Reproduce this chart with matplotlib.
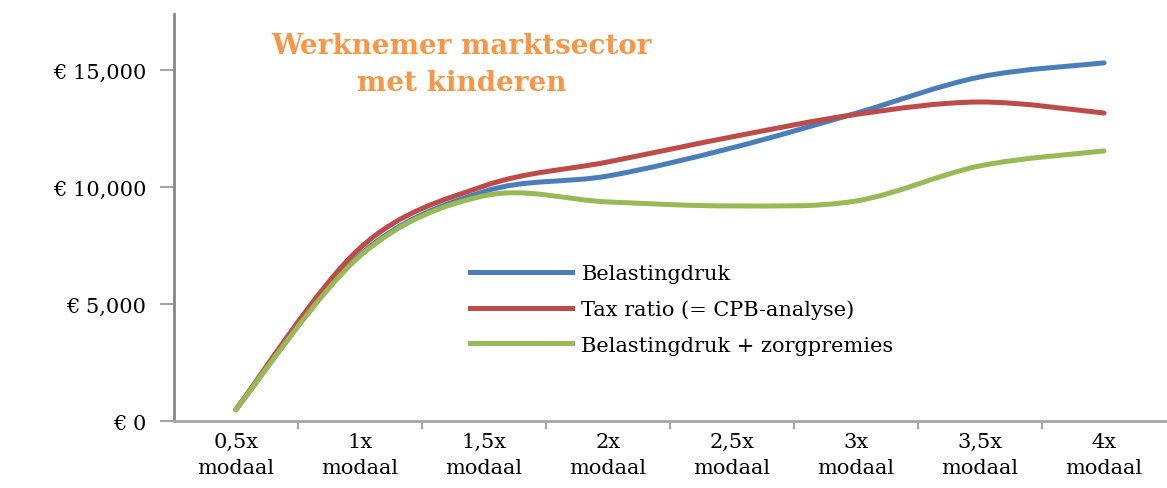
"""Werknemer marktsector met kinderen: smooth line chart per inkomensniveau."""

import matplotlib

matplotlib.use("Agg")
import matplotlib.pyplot as plt
from matplotlib.lines import Line2D
from matplotlib.patches import PathPatch
from matplotlib.path import Path

categories = ["0,5x\nmodaal", "1x\nmodaal", "1,5x\nmodaal", "2x\nmodaal",
              "2,5x\nmodaal", "3x\nmodaal", "3,5x\nmodaal", "4x\nmodaal"]
belastingdruk = [500, 7100, 9800, 10470, 11670, 13150, 14700, 15300]
tax_ratio = [500, 7390, 10040, 11070, 12140, 13100, 13630, 13160]
belasting_zorg = [500, 7050, 9620, 9360, 9190, 9400, 10900, 11540]
series_labels = ["Belastingdruk", "Tax ratio (= CPB-analyse)", "Belastingdruk + zorgpremies"]
y_ticks = [0, 5000, 10000, 15000]
y_ticklabels = ["€ 0", "€ 5,000", "€ 10,000", "€ 15,000"]
title = "Werknemer marktsector\nmet kinderen"

COLORS = ["#4A7EBB", "#BE4B48", "#98B954"]
FONT = "DejaVu Serif"


def _smooth_path(ys: list[float]) -> Path:
    """Excel-style smoothed line through the points (cubic Bezier segments)."""
    pts = list(enumerate(ys))
    verts = [pts[0]]
    codes = [Path.MOVETO]
    n = len(pts)
    for i in range(n - 1):
        p0 = pts[max(i - 1, 0)]
        p1 = pts[i]
        p2 = pts[i + 1]
        p3 = pts[min(i + 2, n - 1)]
        c1 = (p1[0] + (p2[0] - p0[0]) / 6, p1[1] + (p2[1] - p0[1]) / 6)
        c2 = (p2[0] - (p3[0] - p1[0]) / 6, p2[1] - (p3[1] - p1[1]) / 6)
        verts += [c1, c2, p2]
        codes += [Path.CURVE4] * 3
    return Path(verts, codes)


fig = plt.figure(figsize=(11.67, 4.89), dpi=100)
ax = fig.add_axes([174 / 1167, 1 - 422 / 489, 992 / 1167, 407 / 489])

for ys, color in zip([belastingdruk, tax_ratio, belasting_zorg], COLORS):
    ax.add_patch(PathPatch(_smooth_path(ys), facecolor="none", edgecolor=color,
                           lw=3.6, capstyle="round", joinstyle="round", zorder=3))

ax.set_xlim(-0.5, len(categories) - 0.5)
ax.set_ylim(0, 17390)

ax.set_yticks(y_ticks)
ax.set_yticklabels(y_ticklabels, fontfamily=FONT, fontsize=15)
ax.set_xticks(range(len(categories)))
ax.set_xticklabels(categories, fontfamily=FONT, fontsize=15, linespacing=1.45)
ax.set_xticks([i + 0.5 for i in range(len(categories) - 1)], minor=True)
ax.tick_params(axis="x", which="major", length=0, pad=8)
ax.tick_params(axis="x", which="minor", length=6, width=1.5, color="#A6A6A6", direction="out")
ax.tick_params(axis="y", length=10, width=1.5, color="#A6A6A6", direction="out", pad=10)

for side in ["top", "right"]:
    ax.spines[side].set_visible(False)
ax.spines["left"].set_color("#868686")
ax.spines["left"].set_linewidth(2)
ax.spines["bottom"].set_color("#A6A6A6")
ax.spines["bottom"].set_linewidth(2)

handles = [Line2D([], [], color=c, lw=3.6) for c in COLORS]
ax.legend(handles, series_labels, loc="upper left", bbox_to_anchor=(0.29, 0.405),
          frameon=False, handlelength=4.9, handletextpad=0.45, labelspacing=0.78,
          prop={"family": FONT, "size": 15}, borderaxespad=0)

ax.text(0.29, 0.955, title, transform=ax.transAxes, ha="center", va="top",
        color="#F79646", fontfamily=FONT, fontweight="bold", fontsize=20,
        linespacing=1.45)

fig.savefig("out.png", dpi=100)
